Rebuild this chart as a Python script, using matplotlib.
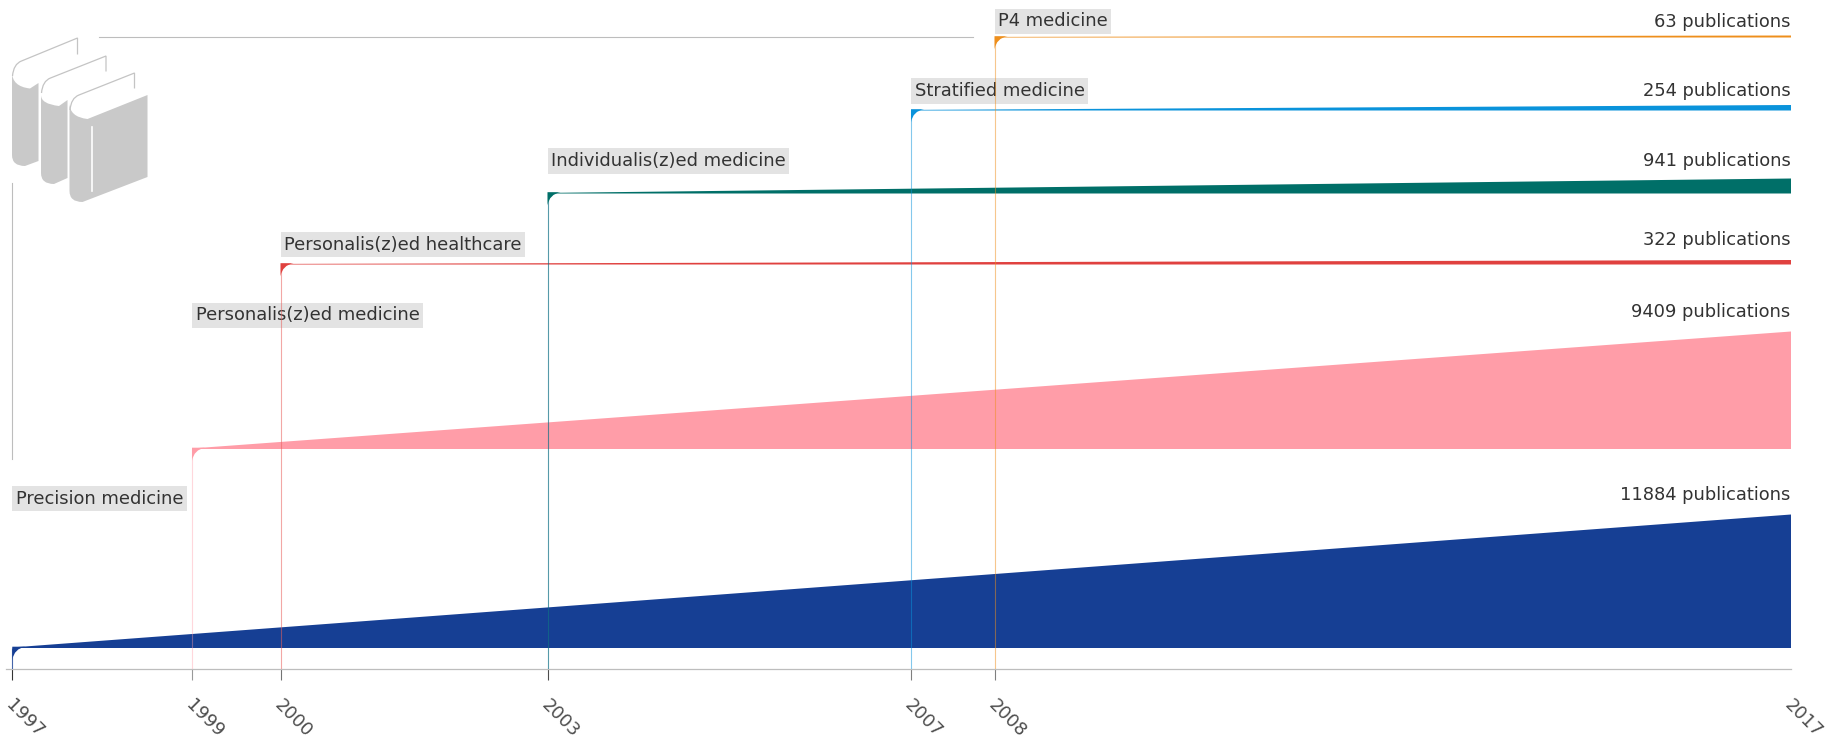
import numpy as np
import matplotlib
matplotlib.use("Agg")
import matplotlib.pyplot as plt
from matplotlib.path import Path
from matplotlib.patches import PathPatch
from matplotlib.lines import Line2D
from matplotlib.transforms import Affine2D, ScaledTranslation
from matplotlib.ticker import NullLocator

# ---------- data ----------
terms = ["Precision medicine", "Personalis(z)ed medicine", "Personalis(z)ed healthcare",
         "Individualis(z)ed medicine", "Stratified medicine", "P4 medicine"]
start_years = [1997, 1999, 2000, 2003, 2007, 2008]
end_year = 2017
publications = [11884, 9409, 322, 941, 254, 63]
band_base = [647.5, 448.5, 264.0, 193.0, 110.0, 37.0]
band_top_end = [514.0, 331.0, 259.5, 178.0, 104.5, 35.0]
colors = ["#163F94", "#FF9DA8", "#E0413F", "#006F68", "#0A93DB", "#EE8F1C"]
line_colors = ["#163F94", "#FF9DA8", "#E8605C", "#0F6F85", "#0A93DB", "#EE8F1C"]
line_alpha = [0.8, 0.40, 0.55, 0.70, 0.50, 0.50]
label_y = [498.5, 315.5, 244.5, 161.0, 91.0, 21.5]
count_y = [495.5, 312.0, 240.0, 160.5, 91.5, 22.0]

W, H = 1826, 745
AXIS_Y = 668.5
plt.rcParams["font.family"] = ["DejaVu Sans"]
TXT = "#333333"
FS = 12.9

# Uneven time axis of the original
anchor_years = np.array([1996.86, 1997, 1999, 2000, 2003, 2007, 2008, 2017, 2017.4])
anchor_px = np.array([0.0, 12.3, 192.0, 280.5, 547.5, 911.0, 994.5, 1790.5, 1826.0])

fig = plt.figure(figsize=(W / 100, H / 100), dpi=100, facecolor="white")
ax = fig.add_axes([0, (H - AXIS_Y) / H, 1, AXIS_Y / H])
ax.patch.set_visible(False)
ax.set_xscale("function", functions=(lambda v: np.interp(v, anchor_years, anchor_px),
                                     lambda v: np.interp(v, anchor_px, anchor_years)))
ax.set_xlim(anchor_years[0], anchor_years[-1])
ax.set_ylim(AXIS_Y, 0)
ax.yaxis.set_visible(False)
for s in ["top", "left", "right"]:
    ax.spines[s].set_visible(False)
ax.spines["bottom"].set_color("#BDBDBD")
ax.spines["bottom"].set_linewidth(0.9)
ax.spines["bottom"].set_bounds(1996.93, 2017)

# pixel transform (origin top-left) for decoration
px = Affine2D().scale(1, -1).translate(0, H)

# bands
for yr, b, t, c in zip(start_years, band_base, band_top_end, colors):
    ax.fill_between([yr, end_year], [b, b], [b - 0.6, t], color=c, lw=0, zorder=2)

# vertical lines from band start to axis
for yr, b, c, a in zip(start_years, band_base, line_colors, line_alpha):
    ax.plot([yr, yr], [b, AXIS_Y], color=c, alpha=a, lw=0.8, zorder=3, solid_capstyle="butt")

# rounded corner wedges
R = 13.0
for yr, b, c in zip(start_years, band_base, colors):
    x0 = float(np.interp(yr, anchor_years, anchor_px))
    y0 = b - 0.8
    verts = [(x0, y0), (x0 + R, y0), (x0 + 0.15 * R, y0 + 0.15 * R), (x0, y0 + R), (x0, y0)]
    codes = [Path.MOVETO, Path.LINETO, Path.CURVE3, Path.CURVE3, Path.CLOSEPOLY]
    fig.add_artist(PathPatch(Path(verts, codes), fc=c, ec="none", transform=px, zorder=4))

# ticks
ax.set_xticks(start_years + [end_year])
ax.set_xticklabels([str(y) for y in start_years + [end_year]], rotation=-45, color="#4D4D4D", fontsize=FS)
ax.xaxis.set_minor_locator(NullLocator())
ax.tick_params(axis="x", length=8, width=0.8, pad=12.0)
ticks = ax.xaxis.get_major_ticks()
for tick, c, a in zip(ticks, line_colors, line_alpha):
    tick.tick1line.set_color(c)
    tick.tick1line.set_alpha(a)
ticks[-1].tick1line.set_visible(False)
shift = ScaledTranslation(12.5 / 100, 0, fig.dpi_scale_trans)
for lab in ax.get_xticklabels():
    lab.set_transform(lab.get_transform() + shift)

# term labels
for name, yr, y in zip(terms, start_years, label_y):
    ax.annotate(name, xy=(yr, y), xytext=(2.6, 0), textcoords="offset points",
                ha="left", va="center", fontsize=FS, color=TXT, zorder=1,
                bbox=dict(boxstyle="square,pad=0.2", fc="#E3E3E3", ec="none"))

# publication counts
for n, y in zip(publications, count_y):
    ax.text(end_year, y, f"{n} publications", ha="right", va="center", fontsize=FS, color=TXT, zorder=5)

# decorative grey rules
fig.add_artist(Line2D([99, 973], [37, 37], color="#BDBDBD", lw=0.8, transform=px))
fig.add_artist(Line2D([11.5, 11.5], [183, 459], color="#BDBDBD", lw=0.8, transform=px))

# book icon (drawn in reference pixels)
GREY = "#C9C9C9"
def shape(pts, codes, **kw):
    fig.add_artist(PathPatch(Path(np.array(pts, float), codes), transform=px, **kw))
M, L, C3 = Path.MOVETO, Path.LINETO, Path.CURVE3
def body(x0, x1, y_top, y_bot, y_r_top, y_r_bot, y_inner):
    pts = [(x0, y_top), (x0, y_bot), (x0, y_bot + 11), (x0 + 13, y_bot + 11),
           (x1, y_r_bot), (x1, y_r_top), (x0 + 18, y_inner), (x0, y_inner - 2), (x0, y_top)]
    cds = [M, L, C3, C3, L, L, L, C3, C3]
    shape(pts, cds, fc=GREY, ec="none", zorder=1)
body(12, 38.5, 72, 155, 83, 161, 88.5)
body(41, 67.5, 95, 173, 100, 178, 106)
body(69.5, 147.5, 103, 191, 95, 177, 119)
def top_line(x0, y0, x1, y1, y2):
    pts = [(x0, y0 + 12), (x0 + 1, y0), (x0 + 9, y0 - 3), (x1, y1), (x1, y2)]
    shape(pts, [M, C3, C3, L, L], fc="none", ec="#C4C4C4", lw=0.9, zorder=1)
top_line(12.5, 64, 77.5, 38, 54.5)
top_line(41.5, 81, 106, 56, 71.5)
top_line(70, 98, 134.5, 73, 88.5)
fig.add_artist(Line2D([92, 92], [127, 191], color="white", lw=1.2, transform=px, zorder=2))

fig.savefig("out.png", dpi=100, facecolor="white")
